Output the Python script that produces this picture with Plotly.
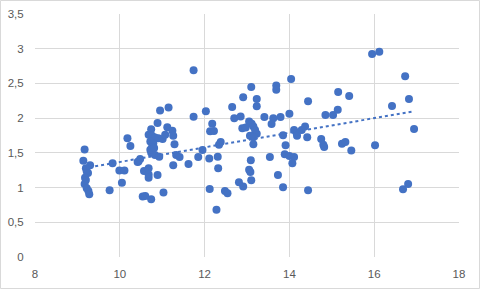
import numpy as np
import plotly.graph_objects as go

x_vals = [9.17, 9.14, 9.30, 9.20, 9.22, 9.25, 9.18, 9.20, 9.17, 9.22, 9.26, 9.28,
          9.76, 9.83, 9.99, 10.11, 10.05, 10.18, 10.25, 10.44, 10.48, 10.42,
          10.57, 10.68, 10.68, 10.68, 10.54, 10.60, 10.74, 10.89, 11.03, 11.26,
          11.62, 11.85, 11.95, 12.11, 12.13, 12.03, 11.74, 11.74, 12.12,
          10.95, 11.15, 10.89, 10.74, 11.12, 11.24, 10.68, 10.76, 10.83, 10.91,
          11.01, 11.07, 11.26, 10.72, 10.79, 10.76, 11.29, 10.74, 10.83, 10.93,
          11.33, 11.41, 10.72, 10.81, 12.31, 12.32, 12.34, 12.38, 12.22, 12.18,
          12.65, 12.70, 12.85, 12.91, 13.10, 13.23, 13.23, 13.05, 13.11, 13.15,
          12.89, 12.97, 13.19, 13.23, 13.07, 13.15, 13.15, 13.41, 13.62, 13.58,
          13.79, 13.69, 13.69, 14.04, 14.00, 13.85, 13.91, 13.54, 13.89, 14.00,
          14.11, 14.07, 14.11, 14.17, 14.18, 14.29, 14.37, 14.44, 14.42, 14.75,
          14.80, 14.82, 14.85, 15.03, 15.15, 15.14, 13.05, 13.08, 13.09, 13.10,
          12.81, 12.91, 13.73, 13.85, 12.48, 12.54, 12.28, 14.44, 15.95, 16.12,
          16.73, 15.41, 16.42, 16.82, 16.94, 15.24, 15.32, 15.46, 16.02, 16.68,
          16.80]
y_vals = [1.55, 1.385, 1.32, 1.28, 1.23, 1.21, 1.14, 1.11, 1.05, 0.99, 0.95, 0.905,
          0.96, 1.35, 1.245, 1.245, 1.07, 1.71, 1.60, 1.375, 1.41, 1.37,
          1.24, 1.28, 1.19, 1.14, 0.87, 0.88, 0.83, 1.18, 0.93, 1.32,
          1.34, 1.44, 1.54, 1.42, 1.81, 2.10, 2.02, 2.69, 0.98,
          2.11, 2.155, 1.93, 1.84, 1.87, 1.82, 1.76, 1.745, 1.72, 1.71,
          1.70, 1.76, 1.745, 1.665, 1.64, 1.58, 1.625, 1.50, 1.47, 1.445,
          1.47, 1.44, 1.545, 1.57, 1.445, 1.28, 1.615, 1.655, 1.815, 1.92,
          2.16, 2.00, 2.025, 2.30, 2.45, 2.275, 2.17, 1.95, 1.92, 1.88,
          1.855, 1.865, 1.83, 1.775, 1.745, 1.725, 1.625, 2.015, 2.00, 1.915,
          2.015, 2.47, 2.41, 2.565, 2.065, 1.755, 1.61, 1.44, 1.48, 1.455,
          1.44, 1.35, 1.83, 1.785, 1.745, 1.83, 1.88, 2.245, 1.725, 1.70,
          1.615, 1.585, 2.045, 2.045, 2.375, 2.12, 1.255, 1.225, 1.395, 1.105,
          1.075, 1.015, 1.18, 1.005, 0.95, 0.92, 0.68, 0.96, 2.925, 2.955,
          2.605, 2.32, 2.175, 2.275, 1.845, 1.63, 1.655, 1.535, 1.61, 0.975,
          1.05]

x_tick_vals = [8, 10, 12, 14, 16, 18]
x_tick_text = ["8", "10", "12", "14", "16", "18"]
y_tick_vals = [0, 0.5, 1, 1.5, 2, 2.5, 3, 3.5]
y_tick_text = ["0", "0,5", "1", "1,5", "2", "2,5", "3", "3,5"]

color = "#4472C4"

# linear trendline (least squares) across data range
xa = np.array(x_vals)
ya = np.array(y_vals)
slope, intercept = np.polyfit(xa, ya, 1)
tx = np.array([xa.min(), xa.max()])
ty = slope * tx + intercept

fig = go.Figure()
fig.add_trace(go.Scatter(x=x_vals, y=y_vals, mode="markers",
                         marker=dict(color=color, size=8, line=dict(width=0)),
                         showlegend=False, hoverinfo="skip"))
fig.add_trace(go.Scatter(x=tx, y=ty, mode="lines",
                         line=dict(color=color, width=2, dash="dot"),
                         showlegend=False, hoverinfo="skip"))

L, R, T, B = 35, 21, 14, 32
W, H = 480, 289
pw, ph = W - L - R, H - T - B

fig.update_layout(
    width=W, height=H,
    margin=dict(l=L, r=R, t=T, b=B, pad=0),
    paper_bgcolor="white", plot_bgcolor="white",
    font=dict(family="Liberation Sans, Arial, sans-serif", size=11.5, color="#595959"),
    xaxis=dict(range=[8, 18], tickvals=x_tick_vals, ticktext=x_tick_text,
               showgrid=True, gridcolor="#D9D9D9", gridwidth=1,
               zeroline=False, showline=False, ticks="outside", ticklen=6,
               tickcolor="rgba(0,0,0,0)", fixedrange=True, automargin=False),
    yaxis=dict(range=[0, 3.5], tickvals=y_tick_vals, ticktext=y_tick_text,
               showgrid=True, gridcolor="#D9D9D9", gridwidth=1,
               zeroline=False, showline=False, ticks="outside", ticklen=8,
               tickcolor="rgba(0,0,0,0)", fixedrange=True, automargin=False),
    shapes=[dict(type="rect", xref="paper", yref="paper",
                 x0=(0.5 - L) / pw, x1=(W - 0.5 - L) / pw,
                 y0=-(B - 0.5) / ph, y1=1 + (T - 0.5) / ph,
                 line=dict(color="#D9D9D9", width=1), layer="below")],
)

fig.write_html("out.html", config={"displayModeBar": False},
               post_script="document.body.style.margin='0';document.body.style.overflow='hidden';")
